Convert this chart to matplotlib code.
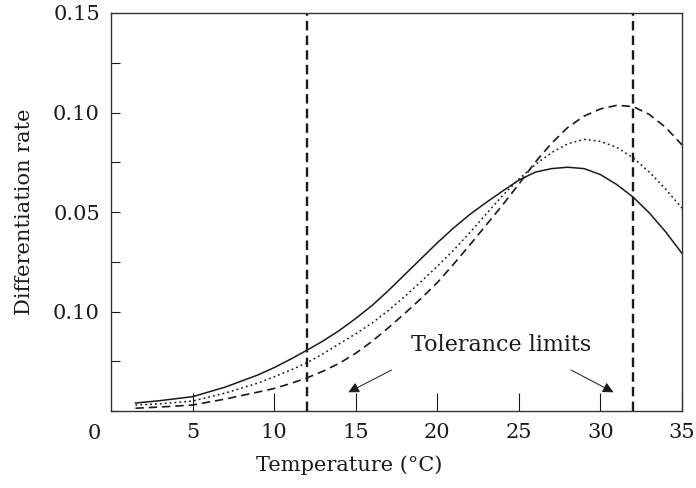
import matplotlib
matplotlib.use("Agg")
import matplotlib.pyplot as plt
from matplotlib.ticker import MultipleLocator, FixedLocator, FixedFormatter

# temperatures
temps = [1.5, 3, 5, 7, 9, 10, 11, 12, 13, 14, 15, 16, 17, 18, 19, 20, 21, 22,
         23, 24, 25, 26, 27, 28, 29, 30, 31, 32, 33, 34, 35]

rate_solid = [0.0040, 0.0052, 0.0072, 0.0120, 0.0181, 0.0218, 0.0260, 0.0305,
              0.0352, 0.0405, 0.0465, 0.0530, 0.0605, 0.0685, 0.0765, 0.0845,
              0.0920, 0.0988, 0.1048, 0.1105, 0.1160, 0.1200, 0.1218, 0.1225,
              0.1218, 0.1188, 0.1138, 0.1075, 0.0995, 0.0900, 0.0792]

rate_dotted = [0.0030, 0.0036, 0.0050, 0.0090, 0.0140, 0.0172, 0.0205, 0.0242,
               0.0288, 0.0338, 0.0388, 0.0442, 0.0505, 0.0575, 0.0650, 0.0727,
               0.0808, 0.0897, 0.0990, 0.1082, 0.1165, 0.1238, 0.1298, 0.1343,
               0.1365, 0.1355, 0.1325, 0.1273, 0.1200, 0.1115, 0.1019]

rate_dashed = [0.0014, 0.0020, 0.0030, 0.0060, 0.0095, 0.0113, 0.0138, 0.0166,
               0.0200, 0.0240, 0.0290, 0.0350, 0.0418, 0.0490, 0.0565, 0.0645,
               0.0738, 0.0835, 0.0935, 0.1035, 0.1140, 0.1250, 0.1345, 0.1425,
               0.1482, 0.1518, 0.1536, 0.1530, 0.1490, 0.1425, 0.1337]

limits = [12, 32]

xtick_vals = [5, 10, 15, 20, 25, 30, 35]
ytick_vals = [0.05, 0.10, 0.15, 0.20]
ytick_labels = ["0.10", "0.05", "0.10", "0.15"]  # as printed in the original

plt.rcParams['font.family'] = ['DejaVu Serif']

fig = plt.figure(figsize=(6.96, 4.88), dpi=100)
ax = fig.add_axes([111/696, 77/488, 571/696, 398/488])

ink = '#1a1a1a'
ax.plot(temps, rate_solid, color=ink, lw=1.1)
ax.plot(temps, rate_dotted, color=ink, lw=1.1, dashes=(1.2, 2.0))
ax.plot(temps, rate_dashed, color=ink, lw=1.2, dashes=(5, 3))
for t in limits:
    ax.axvline(t, color=ink, lw=1.7, dashes=(4, 2.2))

ax.set_xlim(0, 35)
ax.set_ylim(0, 0.20)

ax.xaxis.set_major_locator(FixedLocator(xtick_vals))
ax.tick_params(axis='x', direction='in', length=13, width=0.8, pad=9,
               labelsize=15, colors=ink)
ax.yaxis.set_major_locator(FixedLocator(ytick_vals))
ax.yaxis.set_major_formatter(FixedFormatter(ytick_labels))
ax.yaxis.set_minor_locator(MultipleLocator(0.025))
ax.tick_params(axis='y', which='both', direction='in', length=6.5, width=0.8,
               pad=8, labelsize=15, colors=ink)
for s in ax.spines.values():
    s.set_linewidth(1.0)
    s.set_color('#333333')

# origin label shared by both axes
ax.text(-1.0, -0.0063, "0", fontsize=15, ha='center', va='top', color=ink,
        clip_on=False)

ax.set_xlabel("Temperature (°C)", fontsize=15, color=ink)
ax.xaxis.set_label_coords(0.417, -0.112)
ax.set_ylabel("Differentiation rate", fontsize=15, color=ink)
ax.yaxis.set_label_coords(-0.135, 0.5)

ax.text(23.9, 0.0332, "Tolerance limits", fontsize=16, ha='center',
        va='center', color=ink)
arrow = dict(arrowstyle='-|>', color=ink, lw=0.7, mutation_scale=16,
             shrinkA=0, shrinkB=0)
ax.annotate("", xy=(14.55, 0.0094), xytext=(17.2, 0.0206), arrowprops=arrow)
ax.annotate("", xy=(30.8, 0.0094), xytext=(28.2, 0.0206), arrowprops=arrow)

fig.savefig("out.png", dpi=100)
